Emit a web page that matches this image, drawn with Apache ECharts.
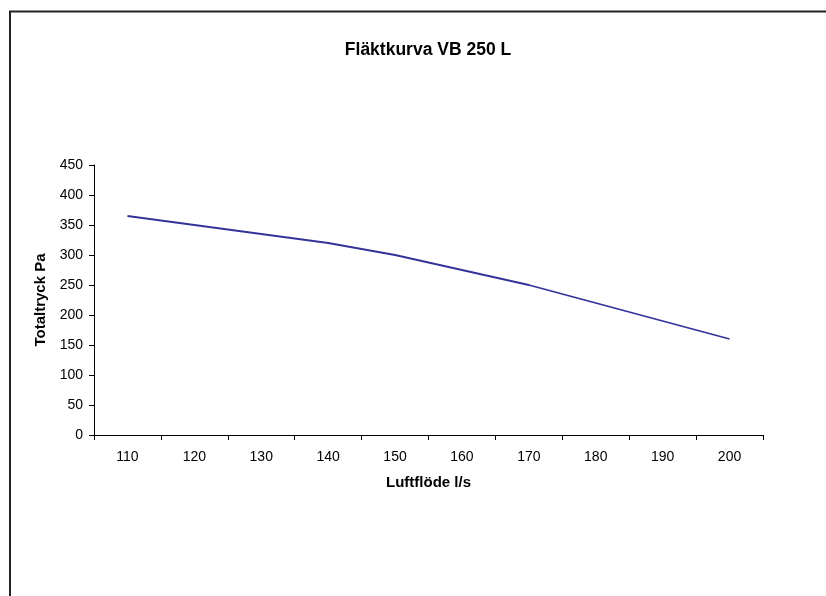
<!DOCTYPE html>
<html>
<head>
<meta charset="utf-8">
<script src="https://cdn.jsdelivr.net/npm/echarts@6/dist/echarts.min.js"></script>
<style>
html,body{margin:0;padding:0;background:#fff;}
#chart{width:826px;height:596px;}
</style>
</head>
<body>
<div id="chart"></div>
<script>
const titleText = 'Fläktkurva VB 250 L';
const xName = 'Luftflöde l/s';
const yName = 'Totaltryck Pa';
const categories = ['110','120','130','140','150','160','170','180','190','200'];
const pressure = [365, 350, 335, 320, 300, 275, 250, 220, 190, 160];

const chart = echarts.init(document.getElementById('chart'), null, {renderer:'canvas'});
const font = 'Liberation Sans, Arial, sans-serif';
chart.setOption({
  backgroundColor: '#ffffff',
  animation: false,
  graphic: [{
    type: 'rect',
    shape: {x: 10, y: 11.5, width: 900, height: 700},
    style: {fill: 'none', stroke: '#222', lineWidth: 2},
    silent: true
  }],
  title: {
    text: titleText,
    left: 423, top: 36, textAlign: 'center',
    textStyle: {fontFamily: font, fontSize: 17.5, fontWeight: 'bold', color: '#000'}
  },
  grid: {left: 94, right: 63, top: 165, bottom: 161, containLabel: false},
  xAxis: {
    type: 'category',
    data: categories,
    boundaryGap: true,
    name: xName,
    nameLocation: 'middle',
    nameGap: 40,
    nameTextStyle: {fontFamily: font, fontSize: 15, fontWeight: 'bold', color: '#000'},
    axisLine: {lineStyle: {color: '#000', width: 1}},
    axisTick: {show: true, alignWithLabel: false, length: 5, inside: false, lineStyle: {color: '#000'}},
    axisLabel: {fontFamily: font, fontSize: 14, color: '#000', margin: 15},
    splitLine: {show: false}
  },
  yAxis: {
    type: 'value',
    min: 0, max: 450, interval: 50,
    name: yName,
    nameLocation: 'middle',
    nameGap: 40,
    nameTextStyle: {fontFamily: font, fontSize: 15, fontWeight: 'bold', color: '#000'},
    axisLine: {show: true, lineStyle: {color: '#000', width: 1}},
    axisTick: {show: true, length: 5, lineStyle: {color: '#000'}},
    axisLabel: {fontFamily: font, fontSize: 14, color: '#000', margin: 11},
    splitLine: {show: false}
  },
  series: [{
    type: 'line',
    data: pressure,
    symbol: 'none',
    lineStyle: {color: '#333399', width: 1.8},
    itemStyle: {color: '#333399'}
  }]
});
</script>
</body>
</html>
